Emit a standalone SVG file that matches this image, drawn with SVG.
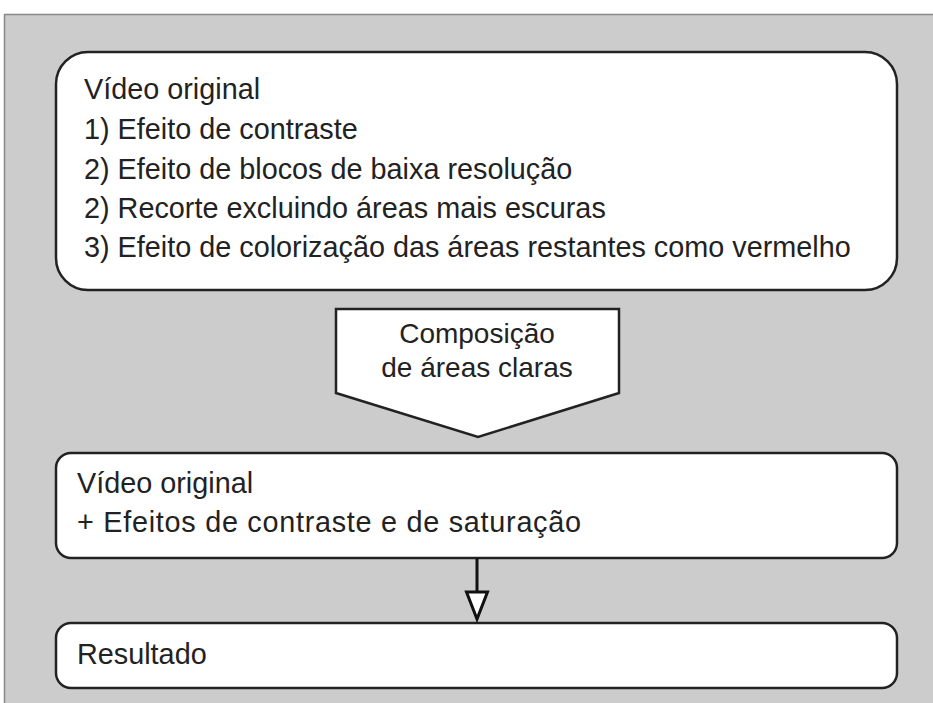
<svg xmlns="http://www.w3.org/2000/svg" width="933" height="703" viewBox="0 0 933 703">
<style>
.box{fill:#ffffff;stroke:#222222;stroke-width:2.5}
.t{font-family:"Liberation Sans",Arial,sans-serif;font-size:28.8px;fill:#222222}
.c{text-anchor:middle;font-size:28px}
.conn{stroke:#111111;stroke-width:3;fill:none}
</style>
<rect x="0" y="0" width="933" height="703" fill="#ffffff"/>
<rect x="4.5" y="14.5" width="940" height="700" fill="#cccccc" stroke="#888888" stroke-width="1.5"/>
<g id="node-top">
<rect class="box" x="56" y="52" width="841" height="238" rx="32" ry="32"/>
<text class="t" x="84" y="99">Vídeo original</text>
<text class="t" x="84" y="139">1) Efeito de contraste</text>
<text class="t" x="84" y="179">2) Efeito de blocos de baixa resolução</text>
<text class="t" x="84" y="218">2) Recorte excluindo áreas mais escuras</text>
<text class="t" x="84" y="257">3) Efeito de colorização das áreas restantes como vermelho</text>
</g>
<g id="node-composicao">
<polygon class="box" points="336,309 619,309 619,393 478,437 336,393"/>
<text class="t c" x="477" y="343">Composição</text>
<text class="t c" x="477" y="377">de áreas claras</text>
</g>
<g id="node-middle">
<rect class="box" x="56" y="453" width="841" height="105" rx="15" ry="15"/>
<text class="t" x="77" y="493">Vídeo original</text>
<text class="t" x="77" y="532" textLength="504" lengthAdjust="spacing">+ Efeitos de contraste e de saturação</text>
</g>
<g id="node-resultado">
<rect class="box" x="56" y="623" width="841" height="65" rx="15" ry="15"/>
<text class="t" x="77" y="664">Resultado</text>
</g>
<g id="connectors">
<line class="conn" x1="477" y1="558" x2="477" y2="594"/>
<path d="M466.5,592 L487.5,592 L477,619 Z" fill="#ffffff" stroke="#111111" stroke-width="3" stroke-linejoin="miter"/>
</g>
</svg>
